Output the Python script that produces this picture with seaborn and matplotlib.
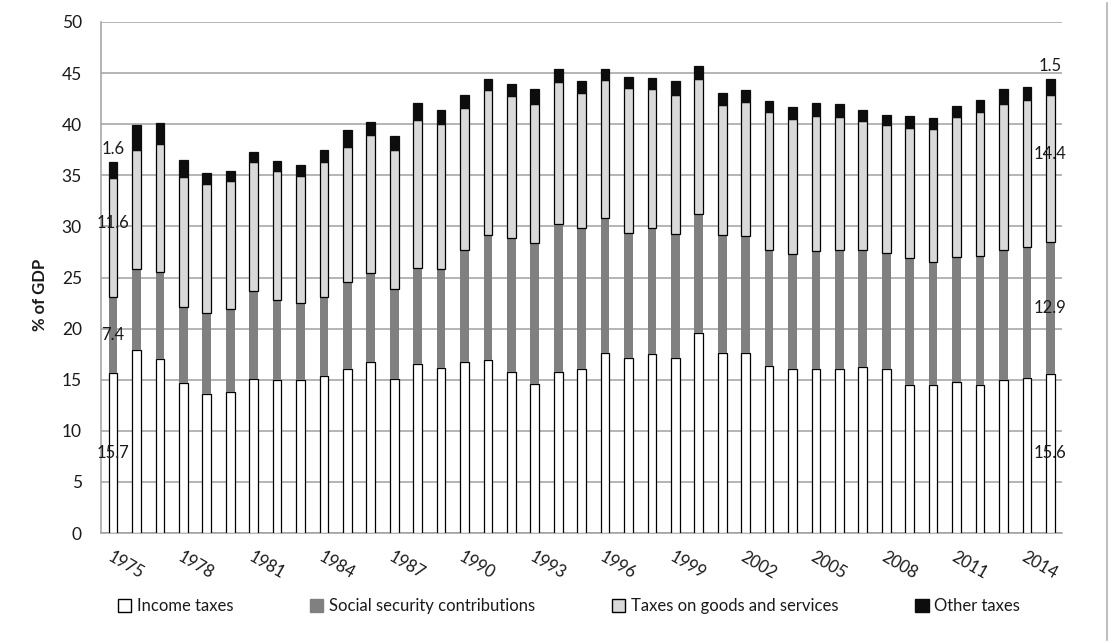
#!/usr/bin/env python3
"""Tax structure as % of GDP, 1975-2015: stacked bars by revenue category."""
import matplotlib
matplotlib.use("Agg")
import matplotlib.pyplot as plt
from matplotlib.lines import Line2D
from matplotlib.patches import Patch
import numpy as np
import pandas as pd
import seaborn as sns

# ---- data ----
years = list(range(1975, 2016))
income = [15.7, 17.9, 17.0, 14.7, 13.6, 13.8, 15.1, 15.0, 15.0, 15.4,
          16.0, 16.7, 15.1, 16.5, 16.1, 16.7, 16.9, 15.8, 14.6, 15.8,
          16.0, 17.6, 17.1, 17.5, 17.1, 19.6, 17.6, 17.6, 16.3, 16.0,
          16.0, 16.0, 16.2, 16.0, 14.5, 14.5, 14.8, 14.5, 15.0, 15.2, 15.6]
social = [7.4, 7.9, 8.5, 7.4, 7.9, 8.1, 8.6, 7.8, 7.5, 7.7,
          8.6, 8.7, 8.8, 9.4, 9.7, 11.0, 12.3, 13.1, 13.8, 14.4,
          13.8, 13.2, 12.3, 12.3, 12.2, 11.6, 11.6, 11.5, 11.4, 11.3,
          11.6, 11.7, 11.5, 11.4, 12.4, 12.0, 12.2, 12.6, 12.7, 12.8, 12.9]
goods = [11.6, 11.7, 12.6, 12.7, 12.6, 12.5, 12.6, 12.6, 12.4, 13.2,
         13.2, 13.5, 13.6, 14.5, 14.2, 13.9, 14.1, 13.9, 13.6, 13.9,
         13.3, 13.5, 14.1, 13.6, 13.6, 13.2, 12.7, 13.1, 13.5, 13.2,
         13.2, 13.0, 12.6, 12.5, 12.7, 13.0, 13.7, 14.1, 14.3, 14.4, 14.4]
other = [1.6, 2.4, 2.0, 1.7, 1.1, 1.0, 1.0, 1.0, 1.1, 1.2,
         1.6, 1.3, 1.3, 1.7, 1.4, 1.3, 1.1, 1.1, 1.4, 1.3,
         1.1, 1.1, 1.1, 1.1, 1.3, 1.3, 1.2, 1.1, 1.1, 1.2,
         1.3, 1.3, 1.1, 1.0, 1.2, 1.1, 1.1, 1.2, 1.4, 1.2, 1.5]

series_names = ["Income taxes", "Social security contributions",
                "Taxes on goods and services", "Other taxes"]
series_values = [income, social, goods, other]
face_colors = ["white", "#808080", "#D9D9D9", "#0D0D0D"]
edge_colors = ["black", "none", "black", "#0D0D0D"]
edge_widths = [0.9, 0, 0.9, 0.9]

year_labels = [str(y) for y in years]
df = pd.DataFrame({"year": year_labels})
for name, vals in zip(series_names, series_values):
    df[name] = vals

sns.set_style("white")
plt.rcParams["font.family"] = ["Lato", "DejaVu Sans"]
TEXT = "#1a1a1a"
GRID = "#A0A0A0"

fig = plt.figure(figsize=(11.14, 6.43), dpi=100)
W, H = 1114, 643
ax = fig.add_axes([101.3 / W, 1 - 533 / H, (1062 - 101.3) / W, (533 - 22) / H])

# ---- stacked bars ----
bottom = np.zeros(len(years))
for name, fc, ec, lw in zip(series_names, face_colors, edge_colors, edge_widths):
    sns.barplot(data=df, x="year", y=name, order=year_labels, color=fc,
                saturation=1, width=0.37, errorbar=None, bottom=bottom.copy(),
                edgecolor=ec, linewidth=lw, ax=ax, zorder=3)
    bottom += df[name].to_numpy()

# ---- data labels on first and last bar ----
for i in (0, len(years) - 1):
    base = 0.0
    for k, vals in enumerate(series_values):
        v = vals[i]
        if k < 2:
            y = base + v / 2
        elif k == 2:
            y = base + v / 2 + 1.4
        else:
            y = base + v + 1.3
        ax.text(i, y, f"{v:.1f}", ha="center", va="center", fontsize=12,
                color=TEXT, zorder=5)
        base += v

# ---- axes styling ----
ax.set_ylim(0, 50)
ax.set_xlim(-0.5, len(years) - 0.5)
ax.set_yticks(range(0, 51, 5))
ax.yaxis.grid(True, color=GRID, lw=1.1)
ax.xaxis.grid(False)
ax.set_axisbelow(True)

ax.set_xticks(range(0, len(years), 3))
ax.set_xticklabels(year_labels[::3])
ax.set_xticks(np.arange(-0.5, len(years), 1), minor=True)
ax.tick_params(axis="x", which="major", length=0, pad=11, labelsize=12,
               labelcolor=TEXT)
ax.tick_params(axis="x", which="minor", length=5, width=1, color=GRID,
               direction="out")
ax.tick_params(axis="y", length=5, width=1, color=GRID, direction="out",
               pad=9, labelsize=12.5, labelcolor=TEXT)
for lab in ax.get_xticklabels():
    lab.set_rotation(-30)
    lab.set_ha("left")
    lab.set_va("top")
    lab.set_rotation_mode("anchor")

for side in ("top", "right"):
    ax.spines[side].set_visible(False)
for side in ("left", "bottom"):
    ax.spines[side].set_color(GRID)
    ax.spines[side].set_linewidth(1.1)

ax.set_xlabel("")
ax.set_ylabel("% of GDP", fontsize=12, fontweight="bold", color=TEXT)
ax.yaxis.set_label_coords(-0.056, 0.466)

# ---- legend ----
handles = [Patch(facecolor=fc, edgecolor=(ec if ec != "none" else fc), linewidth=1)
           for fc, ec in zip(face_colors, edge_colors)]
fig.legend(handles, series_names, loc="center",
           bbox_to_anchor=(569 / W, 1 - 606 / H), ncol=4, frameon=False,
           fontsize=12, columnspacing=4.6, handlelength=0.8, handleheight=0.8,
           handletextpad=0.35, labelcolor=TEXT)

# right border of the chart area
fig.add_artist(Line2D([1107 / W, 1107 / W], [0.005, 0.995], color="#BFBFBF",
                      lw=1.5, transform=fig.transFigure))

fig.savefig("out.png", dpi=100)
